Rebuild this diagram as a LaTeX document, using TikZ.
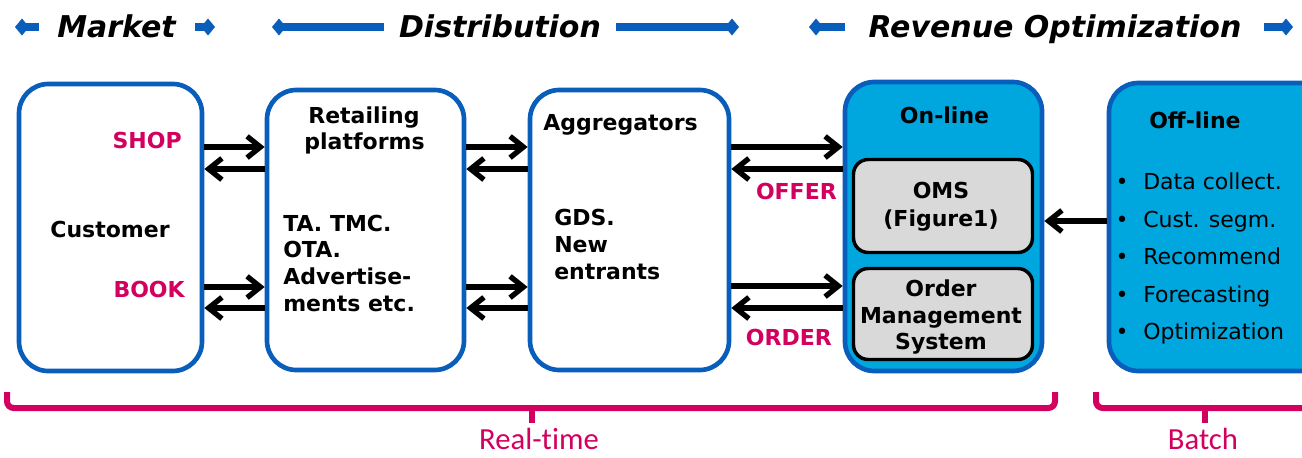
\documentclass[tikz,border=0pt]{standalone}
\usepackage{fontspec}
\setmainfont{DejaVu Sans}
\newfontfamily\carlfont[Ligatures=NoCommon]{Carlito}
\usetikzlibrary{arrows.meta,fit}
\definecolor{hblue}{RGB}{8,94,186}
\definecolor{cyanfill}{RGB}{0,166,222}
\definecolor{mag}{RGB}{210,0,95}
\definecolor{gfill}{RGB}{217,217,217}
\newcommand\fbx{\fontsize{16.5pt}{19.5pt}\selectfont\bfseries}
\newcommand\frg{\fontsize{16.5pt}{19.5pt}\selectfont}
\newcommand\fttl{\fontsize{22.5pt}{27pt}\selectfont\bfseries\itshape}
\newcommand\fbt{\carlfont\fontsize{23pt}{28pt}\selectfont}
\newcommand\hdarrow[2]{%
  \pgfmathsetmacro\hdir{(#2>#1) ? 1 : -1}%
  \fill[hblue] (#1,27) -- ({#1+\hdir*7},18.5) -- ({#1+\hdir*14},27) -- ({#1+\hdir*7},35.5) -- cycle;%
  \fill[hblue] ({#1+\hdir*7},23) rectangle (#2,31);%
}
\tikzset{
  box/.style={draw=hblue, line width=3.5pt, rounded corners=22pt, inner sep=0pt, fill=white},
  cbox/.style={box, fill=cyanfill},
  gbox/.style={draw=black, line width=2.6pt, rounded corners=11pt, inner sep=0pt, fill=gfill},
  txt/.style={inner sep=0pt, font=\fbx},
  rtxt/.style={inner sep=0pt, font=\frg},
  lbl/.style={inner sep=0pt, font=\fbx, text=mag},
  ttl/.style={inner sep=0pt, font=\fttl},
  arr/.style={line width=4pt, -{Straight Barb[length=10pt,width=16pt]}},
  brace/.style={draw=mag, line width=4.5pt, rounded corners=5pt},
  btxt/.style={inner sep=0pt, font=\fbt, text=mag}
}
\begin{document}
\begin{tikzpicture}[x=0.75pt,y=-0.75pt]
\useasboundingbox (0,0) rectangle (1302,457);
\clip (0,0) rectangle (1302,457);

% header
\node[ttl, anchor=base] (tmkt) at (116.5,37) {Market};
\node[ttl, anchor=base] (tdist) at (500,37) {Distribution};
\node[ttl, anchor=base] (trev) at (1055,37) {Revenue Optimization};
\hdarrow{15}{39}
\hdarrow{215}{195}
\hdarrow{272}{384}
\hdarrow{739}{616}
\hdarrow{809}{845}
\hdarrow{1293}{1264}

% boxes
\node[box, fit={(19,84) (202,371)}] (cust) {};
\node[box, fit={(267,90) (464,370)}] (ret) {};
\node[box, fit={(530,90) (729,370)}] (agg) {};
\node[cbox, fit={(845,82) (1042,371)}] (onl) {};
\node[cbox, fit={(1109,83) (1340,371)}] (off) {};
\node[gbox, fit={(853.5,159.5) (1032.5,252.5)}] (oms) {};
\node[gbox, fit={(853.5,268.5) (1032.5,359.5)}] (ordm) {};

% texts
\node[txt, anchor=base] (custt) at (110,237) {Customer};
\node[lbl, anchor=base east] (shop) at (182,148) {SHOP};
\node[lbl, anchor=base east] (book) at (185,297) {BOOK};
\node[txt, anchor=base] (ret1) at (364,123) {Retailing};
\node[txt, anchor=base] (ret2) at (364.5,149) {platforms};
\node[txt, anchor=base west] (ret3) at (283,231) {TA. TMC.};
\node[txt, anchor=base west] (ret4) at (283,257) {OTA.};
\node[txt, anchor=base west] (ret5) at (283,284) {Advertise-};
\node[txt, anchor=base west] (ret6) at (283,311) {ments etc.};
\node[txt, anchor=base west] (agg1) at (543,130) {Aggregators};
\node[txt, anchor=base west] (agg2) at (554,225) {GDS.};
\node[txt, anchor=base west] (agg3) at (554,252) {New};
\node[txt, anchor=base west] (agg4) at (554,279) {entrants};
\node[lbl, anchor=base east] (offer) at (837,199) {OFFER};
\node[lbl, anchor=base east] (order) at (832,345) {ORDER};
\node[txt, anchor=base] (onlt) at (944.5,123) {On-line};
\node[txt, anchor=base] (oms1) at (941,198) {OMS};
\node[txt, anchor=base] (oms2) at (941,226) {(Figure1)};
\node[txt, anchor=base] (ord1) at (941,296) {Order};
\node[txt, anchor=base] (ord2) at (941,323) {Management};
\node[txt, anchor=base] (ord3) at (941,349) {System};
\node[txt, anchor=base west] (offt) at (1149,128) {Off-line};
\foreach \t/\yy [count=\i] in {Data collect./189, Cust. segm./227, Recommend/264, Forecasting/302, Optimization/339}{
  \node[rtxt, anchor=base] (bul\i) at (1122,\yy) {•};
  \node[rtxt, anchor=base west] (itm\i) at (1143,\yy) {\t};
}

% connectors
\draw[arr] (cust.east |- 0,147) -- (ret.west |- 0,147);
\draw[arr] (ret.west |- 0,169) -- (cust.east |- 0,169);
\draw[arr] (cust.east |- 0,287) -- (ret.west |- 0,287);
\draw[arr] (ret.west |- 0,308) -- (cust.east |- 0,308);
\draw[arr] (ret.east |- 0,147) -- (agg.west |- 0,147);
\draw[arr] (agg.west |- 0,169) -- (ret.east |- 0,169);
\draw[arr] (ret.east |- 0,287) -- (agg.west |- 0,287);
\draw[arr] (agg.west |- 0,308) -- (ret.east |- 0,308);
\draw[arr] (agg.east |- 0,147) -- (onl.west |- 0,147);
\draw[arr] (onl.west |- 0,169) -- (agg.east |- 0,169);
\draw[arr] (agg.east |- 0,286) -- (onl.west |- 0,286);
\draw[arr] (onl.west |- 0,308) -- (agg.east |- 0,308);
\draw[arr] (off.west |- 0,221) -- (onl.east |- 0,221);

% braces
\draw[brace] (7,392) -- (7,408) -- (1055,408) -- (1055,392);
\draw[brace] (532,408) -- (532,423);
\draw[brace] (1096,392) -- (1096,408) -- (1330,408);
\draw[brace] (1205,408) -- (1205,423);
\node[btxt, anchor=base] (rt) at (539,449) {Real-time};
\node[btxt, anchor=base] (bt) at (1203,449) {Batch};
\end{tikzpicture}
\end{document}
